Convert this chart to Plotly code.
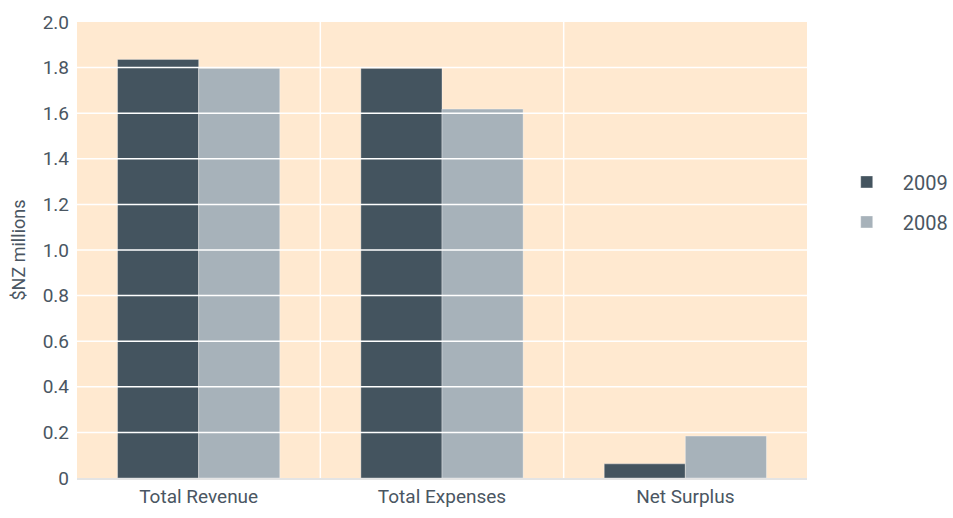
import plotly.graph_objects as go

categories = ["Total Revenue", "Total Expenses", "Net Surplus"]
values_2009 = [1.836, 1.797, 0.062]
values_2008 = [1.797, 1.618, 0.184]
series_names = ["2009", "2008"]
y_ticks = [0, 0.2, 0.4, 0.6, 0.8, 1.0, 1.2, 1.4, 1.6, 1.8, 2.0]
y_tick_labels = ["0", "0.2", "0.4", "0.6", "0.8", "1.0", "1.2", "1.4", "1.6", "1.8", "2.0"]

FONT = "Roboto, sans-serif"
TXT = "#4a5662"

fig = go.Figure()
fig.add_trace(go.Bar(
    x=categories, y=values_2009, name=series_names[0], legendgroup="a",
    marker=dict(color="#44545f", line=dict(color="rgba(255,255,255,0.35)", width=1)),
))
fig.add_trace(go.Bar(
    x=categories, y=values_2008, name=series_names[1], legendgroup="b",
    marker=dict(color="#a7b2ba", line=dict(color="rgba(255,255,255,0.35)", width=1)),
))

shapes = []
for t in y_ticks[1:-1]:
    shapes.append(dict(type="line", xref="paper", yref="y", x0=0, x1=1, y0=t, y1=t,
                       line=dict(color="white", width=1.5), layer="above"))
for i in range(len(categories) - 1):
    shapes.append(dict(type="line", xref="x", yref="paper", x0=i + 0.5, x1=i + 0.5, y0=0, y1=1,
                       line=dict(color="white", width=1.5), layer="below"))

fig.update_layout(
    width=953, height=518,
    margin=dict(l=77, r=146, t=22, b=40, autoexpand=False),
    paper_bgcolor="white", plot_bgcolor="#ffe9d0",
    barmode="group", bargap=1/3, bargroupgap=0,
    font=dict(family=FONT, size=19, color=TXT),
    shapes=shapes,
    legend=dict(x=1.0325, y=0.692, xanchor="left", yanchor="top",
                traceorder="grouped", tracegroupgap=11, itemwidth=62,
                font=dict(size=20, color=TXT), bgcolor="rgba(0,0,0,0)"),
    xaxis=dict(showgrid=False, showline=True, linecolor="#e4e4e4", linewidth=1.5,
               ticks="", tickfont=dict(size=19, color=TXT)),
    yaxis=dict(range=[0, 2.0], tickvals=y_ticks, ticktext=y_tick_labels,
               showgrid=False, zeroline=False, ticks="",
               ticklabelstandoff=7,
               tickfont=dict(size=19, color=TXT),
               title=dict(text="$NZ millions", font=dict(size=18, color=TXT), standoff=12)),
)

fig.write_html("out.html")
